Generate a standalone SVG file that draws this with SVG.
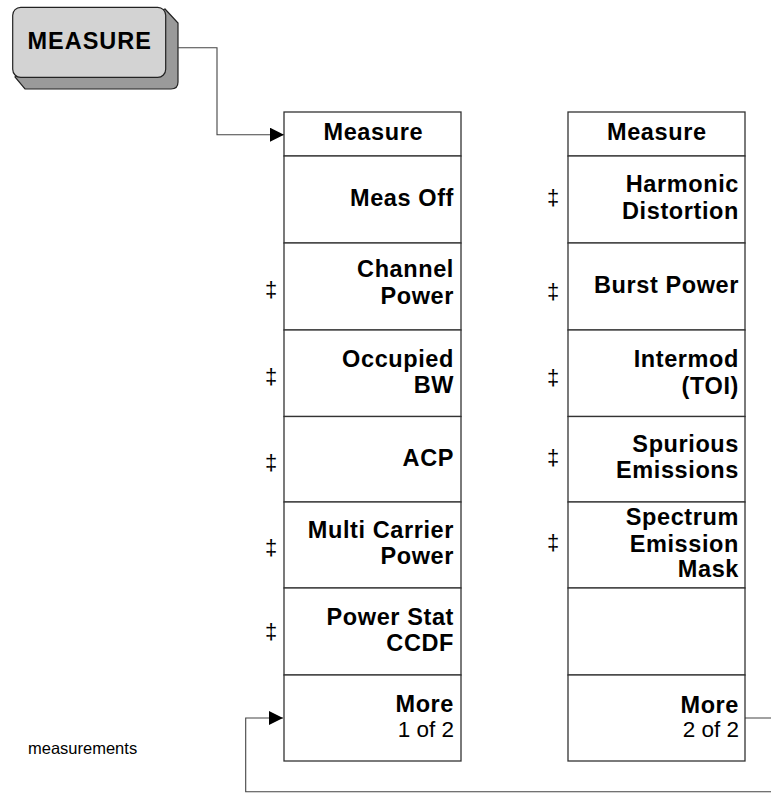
<svg xmlns="http://www.w3.org/2000/svg" width="771" height="793" viewBox="0 0 771 793">
<defs>
<style>
.cell{fill:#fff;stroke:#333;stroke-width:1.3}
.lbl{font-family:"Liberation Sans",Arial,sans-serif;font-weight:bold;font-size:23.5px;letter-spacing:0.6px;fill:#000;text-anchor:end}
.hdr{font-family:"Liberation Sans",Arial,sans-serif;font-weight:bold;font-size:23.5px;letter-spacing:0.6px;fill:#000;text-anchor:middle}
.sub{font-family:"Liberation Sans",Arial,sans-serif;font-weight:normal;font-size:22.5px;fill:#000;text-anchor:end}
.dag{font-family:"Liberation Sans",Arial,sans-serif;font-size:22px;fill:#000;text-anchor:middle}
.note{font-family:"Liberation Sans",Arial,sans-serif;font-size:16.5px;fill:#000}
.conn{fill:none;stroke:#444;stroke-width:1.1}
</style>
<marker id="arr" markerWidth="14" markerHeight="14" refX="14" refY="7" orient="auto" markerUnits="userSpaceOnUse">
<path d="M0,0 L14,7 L0,14 Z" fill="#000"/>
</marker>
</defs>

<g id="measure-key">
<path d="M165,9 L178,23 L178,82 Q178,89 171,89 L25,89 L15,77 Z" fill="#9a9a9a" stroke="#222" stroke-width="1.2"/>
<rect x="12.7" y="7.3" width="153" height="70" rx="8" ry="8" fill="#d3d3d3" stroke="#222" stroke-width="1.2"/>
<text x="89.7" y="49" style="font-family:'Liberation Sans',Arial,sans-serif;font-weight:bold;font-size:23.5px;letter-spacing:1px;text-anchor:middle;fill:#000">MEASURE</text>
</g>

<g id="connectors">
<path class="conn" d="M178,47.7 H217 V134.7 H284" marker-end="url(#arr)"/>
<path class="conn" d="M745,718 H776 V791.7 H245.7 V718 H283" marker-end="url(#arr)"/>
</g>

<g id="menu1">
<g id="m1-header"><rect class="cell" x="284" y="112" width="177" height="44"/><text class="hdr" x="373.3" y="140">Measure</text></g>
<g id="m1-measoff"><rect class="cell" x="284" y="156" width="177" height="87"/><text class="lbl" x="454" y="206">Meas Off</text></g>
<g id="m1-channel"><rect class="cell" x="284" y="243" width="177" height="87"/><text class="lbl" x="454" y="277">Channel</text><text class="lbl" x="454" y="304">Power</text><text class="dag" x="271" y="297">‡</text></g>
<g id="m1-obw"><rect class="cell" x="284" y="330" width="177" height="86.5"/><text class="lbl" x="454" y="366.7">Occupied</text><text class="lbl" x="454" y="392.7">BW</text><text class="dag" x="271" y="384">‡</text></g>
<g id="m1-acp"><rect class="cell" x="284" y="416.5" width="177" height="85.5"/><text class="lbl" x="454" y="466">ACP</text><text class="dag" x="271" y="470">‡</text></g>
<g id="m1-mcp"><rect class="cell" x="284" y="502" width="177" height="86"/><text class="lbl" x="454" y="537.7">Multi Carrier</text><text class="lbl" x="454" y="564.3">Power</text><text class="dag" x="271" y="555">‡</text></g>
<g id="m1-ccdf"><rect class="cell" x="284" y="588" width="177" height="87"/><text class="lbl" x="454" y="625">Power Stat</text><text class="lbl" x="454" y="651">CCDF</text><text class="dag" x="271" y="639">‡</text></g>
<g id="m1-more"><rect class="cell" x="284" y="675" width="177" height="86"/><text class="lbl" x="454" y="711.7">More</text><text class="sub" x="454" y="737.3">1 of 2</text></g>
</g>

<g id="menu2">
<g id="m2-header"><rect class="cell" x="568" y="112" width="177" height="44"/><text class="hdr" x="656.8" y="140">Measure</text></g>
<g id="m2-harmonic"><rect class="cell" x="568" y="156" width="177" height="87"/><text class="lbl" x="739" y="191.7">Harmonic</text><text class="lbl" x="739" y="219">Distortion</text><text class="dag" x="553" y="205">‡</text></g>
<g id="m2-burst"><rect class="cell" x="568" y="243" width="177" height="87"/><text class="lbl" x="739" y="293.3">Burst Power</text><text class="dag" x="553" y="299">‡</text></g>
<g id="m2-toi"><rect class="cell" x="568" y="330" width="177" height="86.5"/><text class="lbl" x="739" y="366.7">Intermod</text><text class="lbl" x="739" y="394">(TOI)</text><text class="dag" x="553" y="385">‡</text></g>
<g id="m2-spur"><rect class="cell" x="568" y="416.5" width="177" height="85.5"/><text class="lbl" x="739" y="451.7">Spurious</text><text class="lbl" x="739" y="478.3">Emissions</text><text class="dag" x="553" y="465">‡</text></g>
<g id="m2-sem"><rect class="cell" x="568" y="502" width="177" height="86"/><text class="lbl" x="739" y="525">Spectrum</text><text class="lbl" x="739" y="551.7">Emission</text><text class="lbl" x="739" y="576.7">Mask</text><text class="dag" x="553" y="550">‡</text></g>
<g id="m2-empty"><rect class="cell" x="568" y="588" width="177" height="87"/></g>
<g id="m2-more"><rect class="cell" x="568" y="675" width="177" height="86"/><text class="lbl" x="739" y="712.7">More</text><text class="sub" x="739" y="737.3">2 of 2</text></g>
</g>

<text class="note" x="28" y="754">measurements</text>
</svg>
